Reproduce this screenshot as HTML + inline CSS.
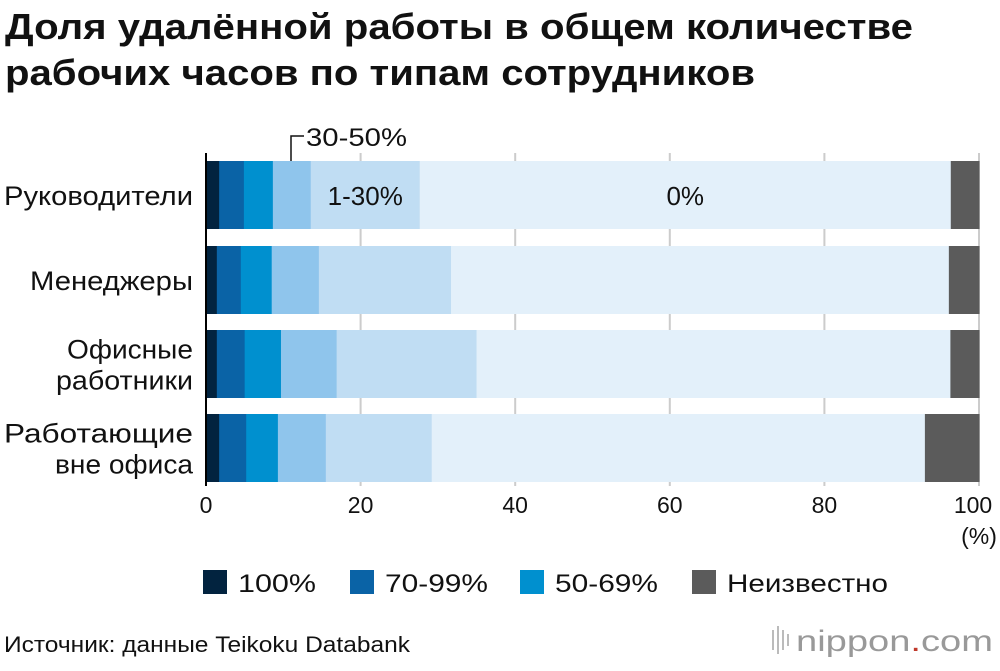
<!DOCTYPE html>
<html><head><meta charset="utf-8"><style>
body{margin:0;background:#fff;width:1000px;height:666px;overflow:hidden;font-family:"Liberation Sans","DejaVu Sans",sans-serif}
</style></head><body>
<svg width="1000" height="666" xmlns="http://www.w3.org/2000/svg" font-family="Liberation Sans, DejaVu Sans, sans-serif">
<text x="5" y="39" font-size="36" font-weight="bold" fill="#111" textLength="908" lengthAdjust="spacingAndGlyphs">Доля удалённой работы в общем количестве</text>
<text x="5" y="85" font-size="36" font-weight="bold" fill="#111" textLength="750" lengthAdjust="spacingAndGlyphs">рабочих часов по типам сотрудников</text>
<g id="grid"></g>
<g id="bars"></g>
<g id="axis"></g>
<line x1="206" y1="153" x2="206" y2="486" stroke="#000" stroke-width="2"/>
<polyline points="291,161 291,136 304,136" fill="none" stroke="#111" stroke-width="1.5"/>
<text x="306" y="146" font-size="25" fill="#111" textLength="101" lengthAdjust="spacingAndGlyphs">30-50%</text>
<g id="legend" font-size="25" fill="#111"></g>
<text x="4" y="652" font-size="22" fill="#111" textLength="406" lengthAdjust="spacingAndGlyphs">Источник: данные Teikoku Databank</text>
<g>
<g fill="#bbb"><rect x="772" y="630" width="2" height="20"/><rect x="777" y="626" width="2" height="28"/><rect x="782" y="630" width="2" height="20"/><rect x="787" y="634" width="2" height="12"/></g>
<text x="796" y="651" font-size="30" fill="#999" textLength="197" lengthAdjust="spacingAndGlyphs">nippon<tspan fill="#c0392b">.</tspan>com</text>
</g>
</svg>
<script>
const categories=[["Руководители"],["Менеджеры"],["Офисные","работники"],["Работающие","вне офиса"]];
const labelWidths=[[189],[163],[126,137],[189,138]];
const seriesNames=["100%","70-99%","50-69%","30-50%","1-30%","0%","Неизвестно"];
const s100=[1.7,1.4,1.4,1.7];
const s70=[3.2,3.1,3.6,3.5];
const s50=[3.75,4.0,4.7,4.1];
const s30=[4.9,6.1,7.2,6.2];
const s1=[14.1,17.1,18.1,13.7];
const s0=[68.7,64.4,61.3,63.8];
const sUnk=[3.65,3.9,3.7,7.0];
const ticks=[0,20,40,60,80,100];
const series=[s100,s70,s50,s30,s1,s0,sUnk];
const colors=["#02233f","#0a63a6","#0090cf","#8fc5ec","#c0ddf3","#e3f0fa","#5b5b5b"];
const NS="http://www.w3.org/2000/svg";
const x=v=>206+v*7.73;
const rowTop=[161,246,330,414], rowH=68;
function mk(t,a,p){const e=document.createElementNS(NS,t);for(const k in a)e.setAttribute(k,a[k]);p.appendChild(e);return e;}
const grid=document.getElementById('grid'),bars=document.getElementById('bars'),axis=document.getElementById('axis'),legend=document.getElementById('legend');
ticks.forEach(t=>{if(t>0){const l=mk('line',{x1:x(t),x2:x(t),y1:153,y2:486,stroke:'#ccc','stroke-width':2},grid);

}
const tx=mk('text',{x:x(t)-(t==100?6:0),y:513,'font-size':23,'text-anchor':'middle',fill:'#111'},axis);tx.textContent=t;

});
const u=mk('text',{x:979,y:544,'font-size':23,'text-anchor':'middle',fill:'#111'},axis);u.textContent='(%)';


categories.forEach((c,i)=>{let acc=0;
series.forEach((s,j)=>{const r=mk('rect',{x:x(acc),y:rowTop[i],width:s[i]*7.73+0.5,height:rowH,fill:colors[j]},bars);

acc+=s[i];});
const n=c.length;c.forEach((ln,k)=>{const t=mk('text',{x:193,y:rowTop[i]+rowH/2+10+(k-(n-1)/2)*31,'font-size':27,'text-anchor':'end',fill:'#111',textLength:labelWidths[i][k],lengthAdjust:'spacingAndGlyphs'},axis);t.textContent=ln;

});});
let a1=s100[0]+s70[0]+s50[0]+s30[0];
const l1=mk('text',{x:x(a1+s1[0]/2),y:205,'font-size':26,'text-anchor':'middle',fill:'#111'},bars);l1.textContent='1-30%';


const l0=mk('text',{x:x(a1+s1[0]+s0[0]/2),y:205,'font-size':26,'text-anchor':'middle',fill:'#111'},bars);l0.textContent='0%';


const leg=[[0,203,78],[1,350,103],[2,520,103],[6,692,161]];
leg.forEach(([j,lx,w])=>{const r=mk('rect',{x:lx,y:570,width:24,height:24,fill:colors[j]},legend);


const t=mk('text',{x:lx+35,y:592,textLength:w,lengthAdjust:'spacingAndGlyphs'},legend);t.textContent=seriesNames[j];

});
</script>
</body></html>
